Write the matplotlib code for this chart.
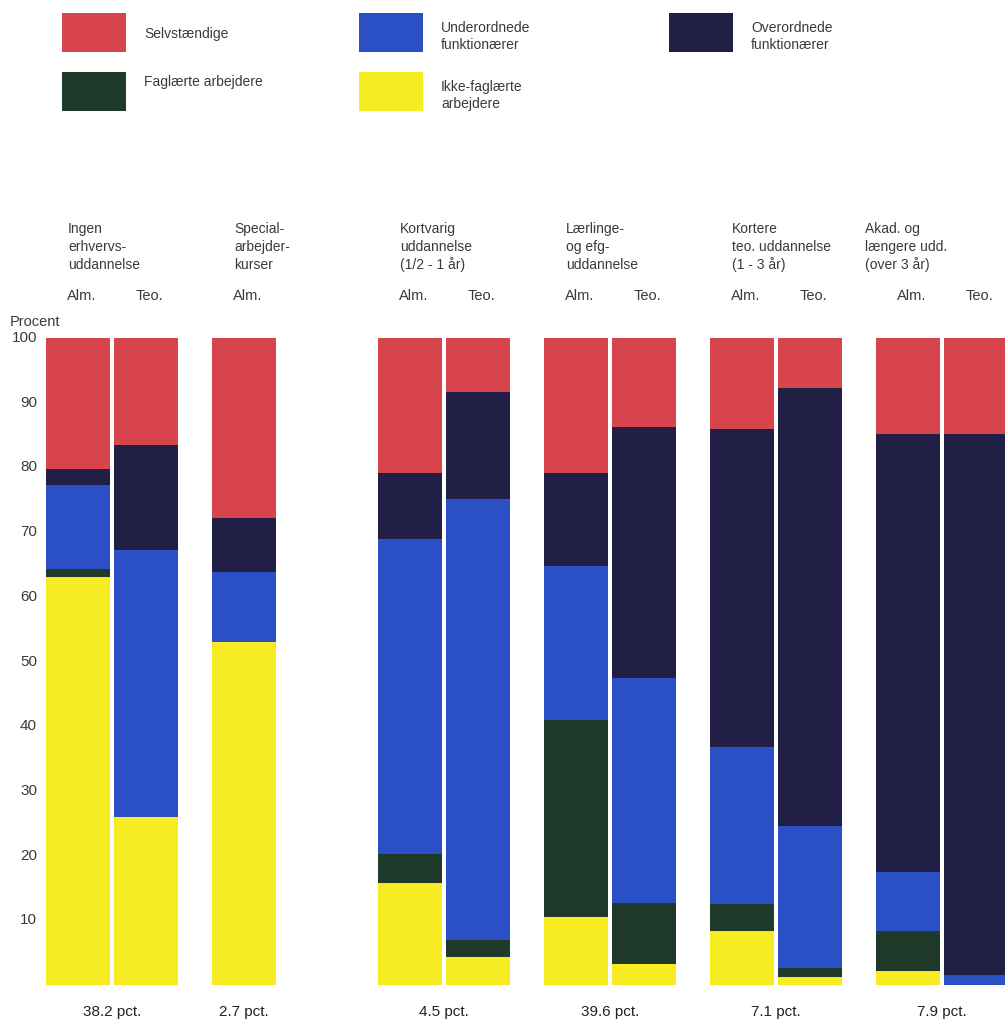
import matplotlib
matplotlib.use("Agg")
import matplotlib.pyplot as plt
from matplotlib.patches import Rectangle

plt.rcParams['font.family'] = ['Liberation Sans', 'DejaVu Sans']

# data: share (pct.) per bar, bottom -> top
ikke_faglaerte = [63.0, 26.0, 53.0, 15.8, 4.3, 10.5, 3.2, 8.3, 1.2, 2.2, 0.0]
faglaerte = [1.3, 0.0, 0.0, 4.5, 2.6, 30.4, 9.4, 4.2, 1.4, 6.1, 0.0]
underordnede = [13.0, 41.2, 10.8, 48.6, 68.2, 23.9, 34.8, 24.3, 21.9, 9.1, 1.5]
overordnede = [2.5, 16.3, 8.4, 10.3, 16.6, 14.4, 38.9, 49.2, 67.7, 67.8, 83.7]
selvstaendige = [20.2, 16.5, 27.8, 20.8, 8.3, 20.8, 13.7, 14.0, 7.8, 14.8, 14.8]

bar_group = [0, 0, 1, 2, 2, 3, 3, 4, 4, 5, 5]
bar_kind = ["Alm.", "Teo.", "Alm.", "Alm.", "Teo.", "Alm.", "Teo.", "Alm.", "Teo.", "Alm.", "Teo."]

group_titles = [
    "Ingen\nerhvervs-\nuddannelse",
    "Special-\narbejder-\nkurser",
    "Kortvarig\nuddannelse\n(1/2 - 1 år)",
    "Lærlinge-\nog efg-\nuddannelse",
    "Kortere\nteo. uddannelse\n(1 - 3 år)",
    "Akad. og\nlængere udd.\n(over 3 år)",
]
group_share = ["38.2 pct.", "2.7 pct.", "4.5 pct.", "39.6 pct.", "7.1 pct.", "7.9 pct."]

series = [
    ("Ikke-faglærte\narbejdere", ikke_faglaerte, "#f7ec22"),
    ("Faglærte arbejdere", faglaerte, "#1f3a2b"),
    ("Underordnede\nfunktionærer", underordnede, "#2b4fc4"),
    ("Overordnede\nfunktionærer", overordnede, "#211f45"),
    ("Selvstændige", selvstaendige, "#d8444b"),
]

# layout (pixel-like units across the width)
W, H = 1005, 1024
first_x, group_pitch, slot_pitch, bar_w = 46, 166, 67.5, 64
txt = "#3a3a3a"

fig = plt.figure(figsize=(W / 100, H / 100), dpi=100)
y0 = 1 - 985 / H
y1 = 1 - 338 / H
ax = fig.add_axes([0, y0, 1, y1 - y0])
ax.set_xlim(0, W)
ax.set_ylim(0, 100)
ax.axis("off")

slots = [0, 1, 0, 0, 1, 0, 1, 0, 1, 0, 1]
lefts = [first_x + group_pitch * g + slot_pitch * s for g, s in zip(bar_group, slots)]
centers = [l + bar_w / 2 for l in lefts]

bottom = [0.0] * len(lefts)
for name, vals, col in series:
    ax.bar(lefts, vals, width=bar_w, bottom=bottom, align="edge", color=col,
           linewidth=0, clip_on=True)
    bottom = [b + v for b, v in zip(bottom, vals)]

# y tick labels
for v in range(10, 101, 10):
    ax.text(37, v, str(v), ha="right", va="center", fontsize=11, color=txt, clip_on=False)
ax.text(10, 102.5, "Procent", ha="left", va="center", fontsize=10.5, color=txt, clip_on=False)

# group titles, kind labels, shares
for g in range(len(group_titles)):
    idx = [i for i, gg in enumerate(bar_group) if gg == g]
    gx = first_x + group_pitch * g
    tx = gx + 22 if g < 5 else gx - 11
    lines = group_titles[g].split("\n")
    for k, line in enumerate(lines):
        fig.text(tx / W, 1 - (229 + 18 * k) / H, line, ha="left", va="center",
                 fontsize=10, color=txt)
    for i in idx:
        fig.text((centers[i] + 4) / W, 1 - 296 / H, bar_kind[i], ha="center", va="center",
                 fontsize=10.5, color=txt)
    gc = (lefts[idx[0]] + lefts[idx[-1]] + bar_w) / 2
    fig.text(gc / W, 1 - 1012 / H, group_share[g], ha="center", va="center",
             fontsize=11, color="#222222")

# legend
legend_items = [
    ("Selvstændige", "#d8444b", 62, 13),
    ("Faglærte arbejdere", "#1f3a2b", 62, 72),
    ("Underordnede\nfunktionærer", "#2b4fc4", 359, 13),
    ("Ikke-faglærte\narbejdere", "#f7ec22", 359, 72),
    ("Overordnede\nfunktionærer", "#211f45", 669, 13),
]
for label, col, px, py in legend_items:
    fig.add_artist(Rectangle((px / W, 1 - (py + 39) / H), 64 / W, 39 / H,
                             transform=fig.transFigure, color=col, lw=0))
    lines = label.split("\n")
    if len(lines) == 1:
        ys = [py + 21] if py < 50 else [py + 10]
    else:
        ys = [py + 15, py + 32]
    for line, yy in zip(lines, ys):
        fig.text((px + 82) / W, 1 - yy / H, line, ha="left", va="center",
                 fontsize=10, color=txt)

fig.savefig("out.png", dpi=100, facecolor="white")
